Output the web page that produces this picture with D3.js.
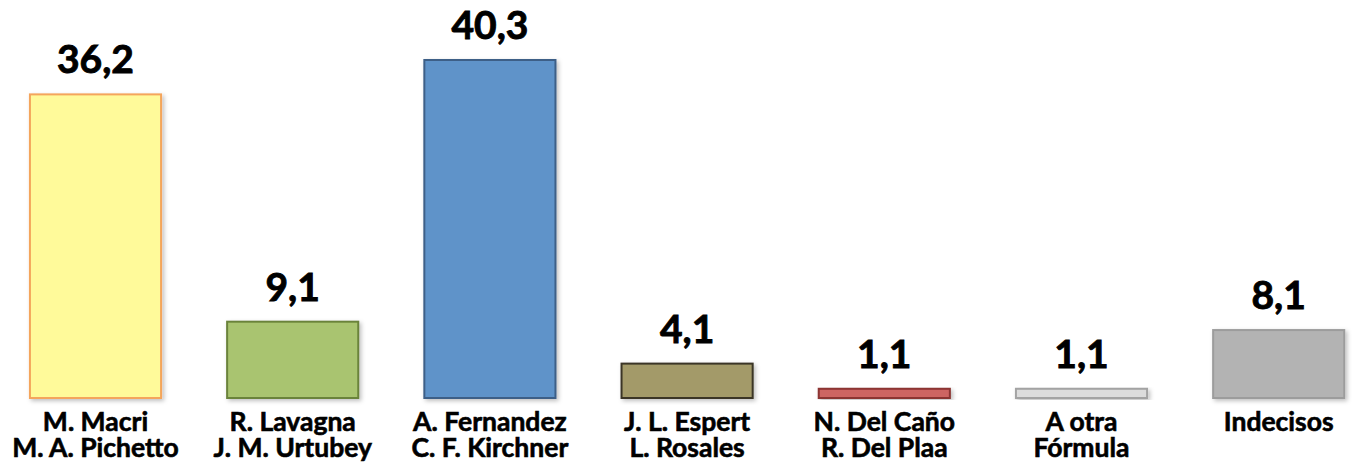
<!DOCTYPE html>
<html>
<head>
<meta charset="utf-8">
<title>Encuesta</title>
<script src="https://d3js.org/d3.v7.min.js"></script>
<style>
  body { margin: 0; background: #fff; }
  text { font-family: Lato, "Open Sans", sans-serif; font-weight: bold; fill: #000; stroke: #000; stroke-width: 0.6px; }
</style>
</head>
<body>
<div id="chart"></div>
<script>
// data
var candidatos = [
  ["M. Macri", "M. A. Pichetto"],
  ["R. Lavagna", "J. M. Urtubey"],
  ["A. Fernandez", "C. F. Kirchner"],
  ["J. L. Espert", "L. Rosales"],
  ["N. Del Caño", "R. Del Plaa"],
  ["A otra", "Fórmula"],
  ["Indecisos"]
];
var valores = [36.2, 9.1, 40.3, 4.1, 1.1, 1.1, 8.1];
var etiquetas = ["36,2", "9,1", "40,3", "4,1", "1,1", "1,1", "8,1"];
var rellenos = ["#FFFA9A", "#A9C46F", "#5F93C9", "#A39A69", "#CD6562", "#DCDCDC", "#B3B3B3"];
var bordes = ["#F4A55C", "#6A833A", "#3D5F87", "#3A3526", "#8C3433", "#A3A3A3", "#9C9C9C"];

var width = 1356, height = 465;

var svg = d3.select("#chart").append("svg")
  .attr("width", width)
  .attr("height", height);

var defs = svg.append("defs");
var f = defs.append("filter").attr("id", "sombra")
  .attr("x", "-10%").attr("y", "-10%").attr("width", "130%").attr("height", "130%");
f.append("feDropShadow").attr("dx", 2).attr("dy", 2).attr("stdDeviation", 2)
  .attr("flood-color", "#000").attr("flood-opacity", 0.25);

var idx = d3.range(valores.length);

var x = d3.scaleBand()
  .domain(idx)
  .range([-3.1, 1377.3])
  .paddingInner(0.335)
  .paddingOuter(0.1675);

var y = d3.scaleLinear()
  .domain([0, 40.3])
  .range([398, 60]);

// bars
svg.selectAll(".barra")
  .data(idx)
  .enter()
  .append("rect")
    .attr("class", "barra")
    .attr("x", function(i) { return x(i); })
    .attr("y", function(i) { return y(valores[i]); })
    .attr("width", x.bandwidth())
    .attr("height", function(i) { return y(0) - y(valores[i]); })
    .attr("fill", function(i) { return rellenos[i]; })
    .attr("stroke", function(i) { return bordes[i]; })
    .attr("stroke-width", 2)
    .attr("filter", "url(#sombra)");

// value labels
svg.selectAll(".valor")
  .data(idx)
  .enter()
  .append("text")
    .attr("class", "valor")
    .attr("x", function(i) { return x(i) + x.bandwidth() / 2; })
    .attr("y", function(i) { return y(valores[i]) - 21; })
    .attr("text-anchor", "middle")
    .style("font-size", "39px")
    .style("stroke-width", "0.9px")
    .text(function(i) { return etiquetas[i]; });

// category labels
var cat = svg.selectAll(".cat")
  .data(idx)
  .enter()
  .append("text")
    .attr("class", "cat")
    .attr("text-anchor", "middle")
    .style("font-size", "26.5px");

cat.selectAll("tspan")
  .data(function(i) { return candidatos[i].map(function(t) { return { i: i, t: t }; }); })
  .enter()
  .append("tspan")
    .attr("x", function(d) { return x(d.i) + x.bandwidth() / 2; })
    .attr("y", function(d, k) { return 431 + k * 26; })
    .text(function(d) { return d.t; });
</script>
</body>
</html>
